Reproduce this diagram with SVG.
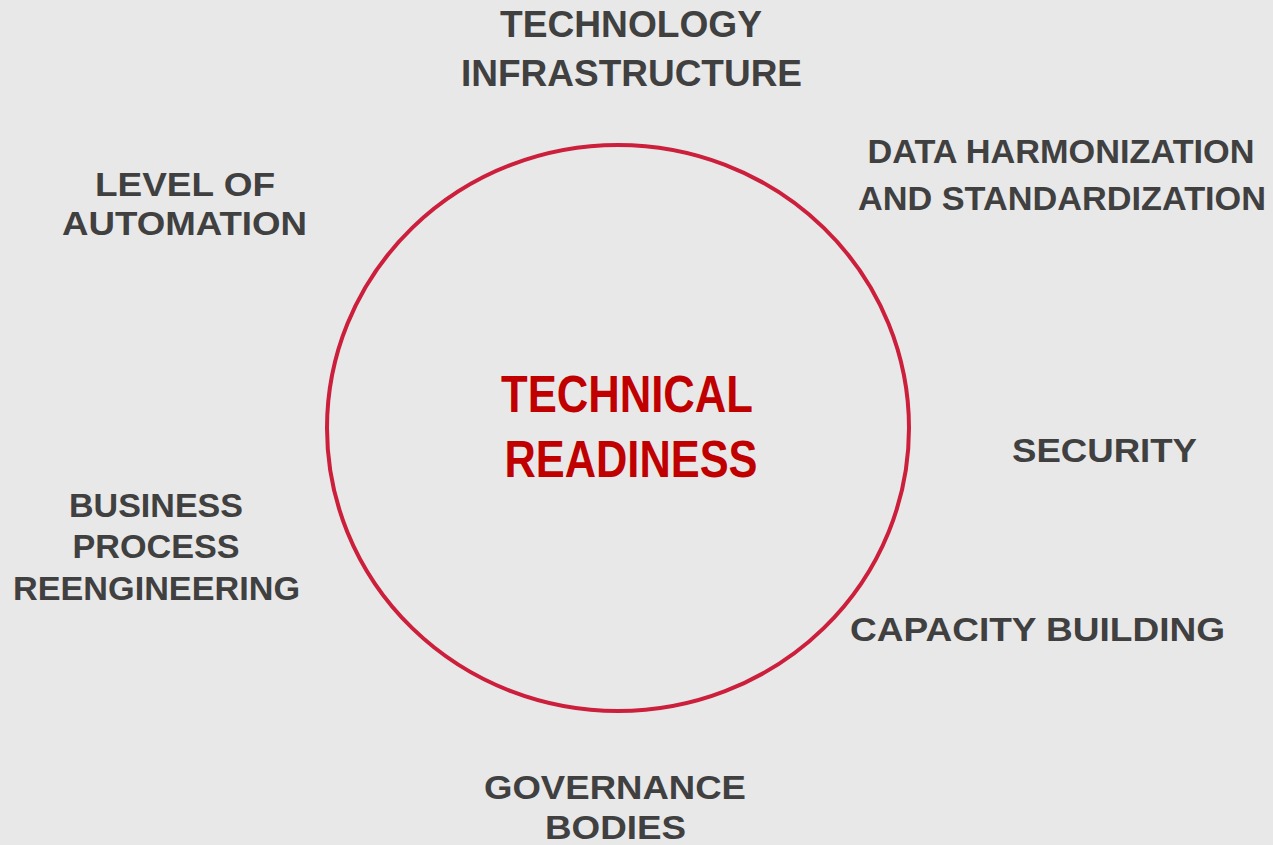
<svg xmlns="http://www.w3.org/2000/svg" width="1273" height="845" viewBox="0 0 1273 845">
<style>
.lbl{font-family:"Liberation Sans",Arial,sans-serif;font-weight:bold;fill:#404040;text-anchor:middle;}
.ctr{font-family:"Liberation Sans Narrow","Liberation Sans",Arial,sans-serif;font-weight:bold;fill:#c00000;text-anchor:middle;font-size:52px;}
</style>
<rect width="1273" height="845" fill="#e8e8e8"/>
<g id="connectors"></g>
<g id="technical-readiness">
<ellipse cx="618" cy="428" rx="291" ry="283" fill="none" stroke="#cc1f3c" stroke-width="4"/>
<text class="ctr" x="627" y="412" textLength="252" lengthAdjust="spacingAndGlyphs">TECHNICAL</text>
<text class="ctr" x="631" y="477" textLength="253" lengthAdjust="spacingAndGlyphs">READINESS</text>
</g>
<g id="technology-infrastructure" class="lbl" font-size="36">
<text x="631" y="37" textLength="262" lengthAdjust="spacingAndGlyphs">TECHNOLOGY</text>
<text x="631.5" y="86" textLength="341" lengthAdjust="spacingAndGlyphs">INFRASTRUCTURE</text>
</g>
<g id="data-harmonization" class="lbl" font-size="34">
<text x="1061" y="163" textLength="387" lengthAdjust="spacingAndGlyphs">DATA HARMONIZATION</text>
<text x="1062" y="210" textLength="408" lengthAdjust="spacingAndGlyphs">AND STANDARDIZATION</text>
</g>
<g id="level-of-automation" class="lbl" font-size="34">
<text x="185" y="196" textLength="180" lengthAdjust="spacingAndGlyphs">LEVEL OF</text>
<text x="184.5" y="235" textLength="245" lengthAdjust="spacingAndGlyphs">AUTOMATION</text>
</g>
<g id="security" class="lbl" font-size="34">
<text x="1104.5" y="462" textLength="185" lengthAdjust="spacingAndGlyphs">SECURITY</text>
</g>
<g id="business-process-reengineering" class="lbl" font-size="33">
<text x="156" y="517" textLength="174" lengthAdjust="spacingAndGlyphs">BUSINESS</text>
<text x="156" y="558" textLength="167" lengthAdjust="spacingAndGlyphs">PROCESS</text>
<text x="156.5" y="600" textLength="287" lengthAdjust="spacingAndGlyphs">REENGINEERING</text>
</g>
<g id="capacity-building" class="lbl" font-size="34">
<text x="1037.5" y="641" textLength="375" lengthAdjust="spacingAndGlyphs">CAPACITY BUILDING</text>
</g>
<g id="governance-bodies" class="lbl" font-size="33">
<text x="615" y="799" textLength="262" lengthAdjust="spacingAndGlyphs">GOVERNANCE</text>
<text x="615.5" y="839" textLength="141" lengthAdjust="spacingAndGlyphs">BODIES</text>
</g>
</svg>
